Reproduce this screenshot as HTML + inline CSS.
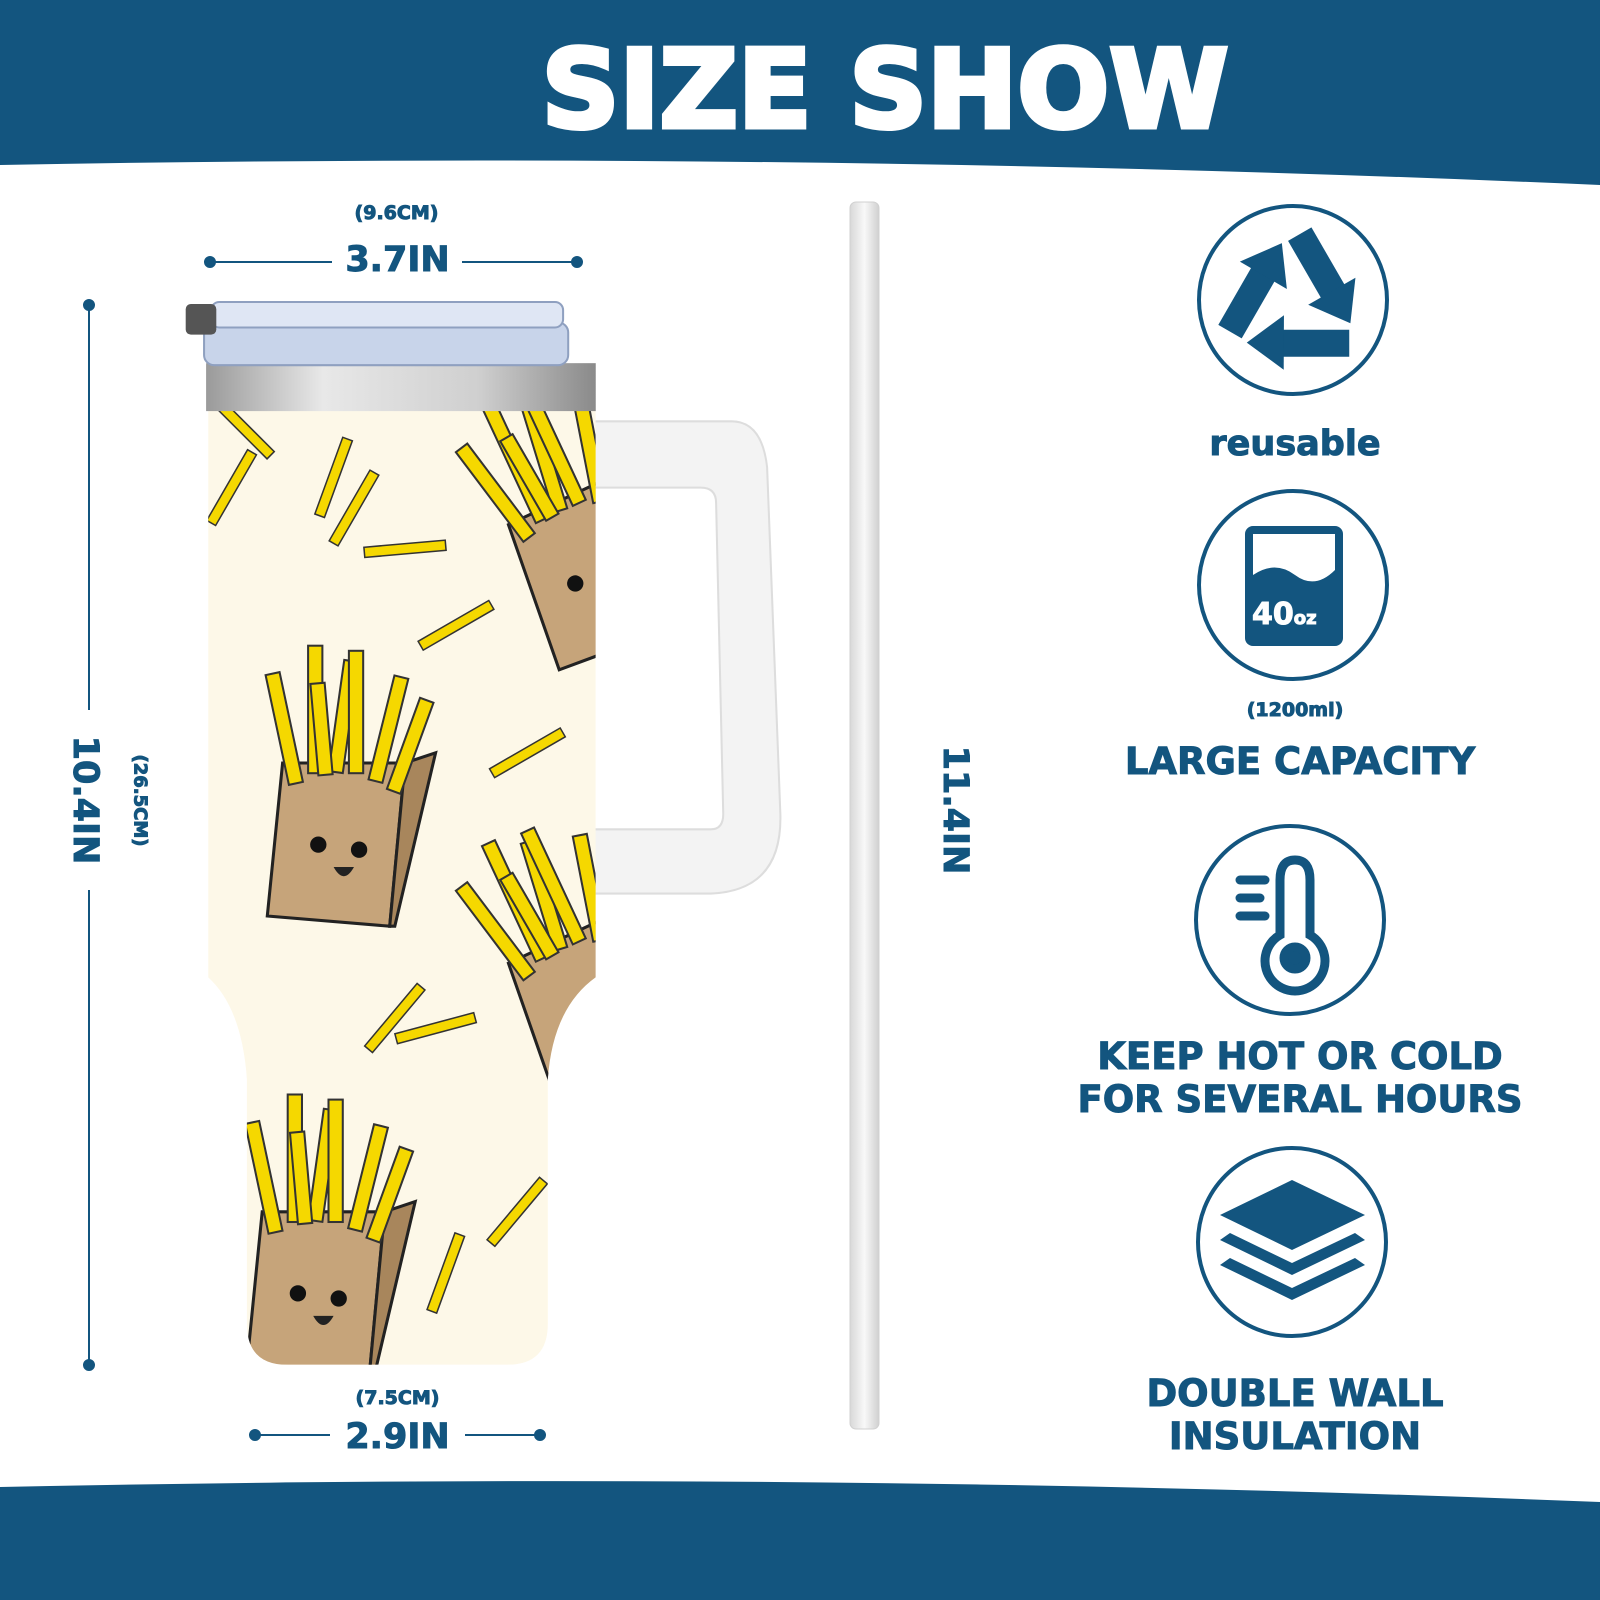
<!DOCTYPE html>
<html><head><meta charset="utf-8"><style>
body{margin:0;width:1600px;height:1600px;background:#fff;overflow:hidden;font-family:"DejaVu Sans","Liberation Sans",sans-serif}
.t{position:absolute;color:#13557f;font-weight:bold;white-space:nowrap;-webkit-text-stroke:1px #13557f}
</style></head><body>
<svg width="1600" height="1600" style="position:absolute;left:0;top:0">
<defs>
<linearGradient id="steel" x1="0" x2="1"><stop offset="0" stop-color="#9a9a9a"/><stop offset=".3" stop-color="#e8e8e8"/><stop offset=".7" stop-color="#cfcfcf"/><stop offset="1" stop-color="#8a8a8a"/></linearGradient>
<linearGradient id="straw" x1="0" x2="1"><stop offset="0" stop-color="#d8d8d8"/><stop offset=".5" stop-color="#f8f8f8"/><stop offset="1" stop-color="#d0d0d0"/></linearGradient>
<g id="fry"><rect x="-5" y="-40" width="10" height="80" fill="#f5d800" stroke="#333" stroke-width="1.5"/></g>
<g id="bag">
<polygon points="-60,-10 60,-10 45,150 -75,140" fill="#c6a47a" stroke="#222" stroke-width="3"/>
<polygon points="60,-10 90,-20 50,150 45,150" fill="#a8865c" stroke="#222" stroke-width="3"/>
<g fill="#f5d800" stroke="#333" stroke-width="2">
<rect x="-55" y="-110" width="14" height="110" transform="rotate(-12)"/>
<rect x="-35" y="-125" width="14" height="125"/>
<rect x="-15" y="-110" width="14" height="110" transform="rotate(8)"/>
<rect x="5" y="-120" width="14" height="120"/>
<rect x="25" y="-105" width="14" height="105" transform="rotate(14)"/>
<rect x="45" y="-95" width="14" height="95" transform="rotate(20)"/>
<rect x="-25" y="-90" width="14" height="90" transform="rotate(-5)"/>
</g>
<circle cx="-25" cy="70" r="8" fill="#111"/><circle cx="15" cy="75" r="8" fill="#111"/>
<path d="M-10 92 Q0 110 10 92 Z" fill="#222"/>
</g>
<clipPath id="body"><path d="M207 398 H587 V960 Q545 990 540 1060 V1300 Q540 1340 500 1340 H285 Q245 1340 245 1300 V1060 Q240 990 207 960 Z"/></clipPath>
<g id="rarrow">
<line x1="5" y1="-51" x2="31" y2="-6" stroke="#13557f" stroke-width="20"/>
<polygon points="42,13 17,2 45,-14" fill="#13557f" transform="scale(1.25) translate(-8,-1)"/>
</g>
</defs>
<path d="M0 0 H1600 V185 Q800 150 0 165 Z" fill="#13557f"/>
<path d="M0 1600 H1600 V1502 Q800 1470 0 1487 Z" fill="#13557f"/>
<g transform="translate(-3,-2) scale(1.02)">
<path d="M580 415 H720 Q750 415 755 460 L768 800 Q770 875 700 878 H580 V815 H700 Q712 815 712 800 L705 495 Q705 480 690 480 H580 Z" fill="#f3f3f3" stroke="#ddd" stroke-width="2"/>
<g clip-path="url(#body)">
<rect x="200" y="390" width="400" height="960" fill="#fdf8e8"/>
<use href="#bag" transform="translate(340 760)"/>
<use href="#bag" transform="translate(560 500) rotate(-25)"/>
<use href="#bag" transform="translate(560 930) rotate(-25)"/>
<use href="#bag" transform="translate(320 1200)"/>
<use href="#fry" transform="translate(330 470) rotate(20)"/>
<use href="#fry" transform="translate(350 500) rotate(30)"/>
<use href="#fry" transform="translate(400 540) rotate(85)"/>
<use href="#fry" transform="translate(450 615) rotate(60)"/>
<use href="#fry" transform="translate(520 740) rotate(60)"/>
<use href="#fry" transform="translate(390 1000) rotate(40)"/>
<use href="#fry" transform="translate(430 1010) rotate(75)"/>
<use href="#fry" transform="translate(510 1190) rotate(40)"/>
<use href="#fry" transform="translate(440 1250) rotate(20)"/>
<use href="#fry" transform="translate(230 480) rotate(30)"/>
<use href="#fry" transform="translate(240 420) rotate(-45)"/>
</g>
<rect x="205" y="358" width="382" height="47" fill="url(#steel)"/>
<rect x="203" y="318" width="357" height="42" rx="10" fill="#c8d4ea" stroke="#8fa0c0" stroke-width="2"/>
<rect x="210" y="298" width="345" height="25" rx="8" fill="#dfe6f4" stroke="#8fa0c0" stroke-width="2"/>
<rect x="185" y="300" width="30" height="30" rx="5" fill="#555"/>
</g>
<rect x="850" y="202" width="29" height="1227" rx="6" fill="url(#straw)" stroke="#d0d0d0"/>
<g stroke="#13557f" stroke-width="2" fill="#13557f">
<line x1="210" y1="262" x2="332" y2="262"/><line x1="462" y1="262" x2="577" y2="262"/>
<circle cx="210" cy="262" r="5"/><circle cx="577" cy="262" r="5"/>
<line x1="255" y1="1435" x2="330" y2="1435"/><line x1="465" y1="1435" x2="540" y2="1435"/>
<circle cx="255" cy="1435" r="5"/><circle cx="540" cy="1435" r="5"/>
<line x1="89" y1="305" x2="89" y2="710"/><line x1="89" y1="890" x2="89" y2="1365"/>
<circle cx="89" cy="305" r="5"/><circle cx="89" cy="1365" r="5"/>
</g>
<g fill="none" stroke="#13557f" stroke-width="4">
<circle cx="1293" cy="300" r="94"/><circle cx="1293" cy="585" r="94"/>
<circle cx="1290" cy="920" r="94"/><circle cx="1292" cy="1242" r="94"/>
</g>
<g transform="translate(1293 303) scale(1.35)">
<use href="#rarrow"/><use href="#rarrow" transform="rotate(120)"/><use href="#rarrow" transform="rotate(240)"/>
</g>
<rect x="1245" y="526" width="98" height="120" rx="8" fill="#13557f"/>
<rect x="1253" y="534" width="82" height="55" fill="#fff"/>
<path d="M1253 575 Q1275 560 1295 575 T1335 570 V590 H1253 Z" fill="#13557f"/>
<g stroke="#13557f" stroke-width="9" fill="none" stroke-linecap="round">
<path d="M1280 935 V880 Q1280 860 1295 860 Q1310 860 1310 880 V935 A30 30 0 1 1 1280 935 Z"/>
<circle cx="1295" cy="958" r="11" fill="#13557f"/>
<line x1="1240" y1="880" x2="1265" y2="880"/><line x1="1240" y1="898" x2="1260" y2="898"/><line x1="1240" y1="916" x2="1265" y2="916"/>
</g>
<g fill="#13557f">
<polygon points="1292,1180 1365,1215 1292,1250 1220,1215"/>
<path d="M1230 1233 L1292 1263 L1355 1233 L1365 1240 L1292 1275 L1220 1240 Z"/>
<path d="M1230 1258 L1292 1288 L1355 1258 L1365 1265 L1292 1300 L1220 1265 Z"/>
</g>
</svg>
<div class="t" style="left:0;width:1770px;text-align:center;top:28px;font-size:108px;color:#fff;-webkit-text-stroke:5px #fff">SIZE SHOW</div>
<div class="t" style="left:0;width:793px;text-align:center;top:202px;font-size:19px">(9.6CM)</div>
<div class="t" style="left:0;width:795px;text-align:center;top:240px;font-size:35px">3.7IN</div>
<div class="t" style="left:0;width:795px;text-align:center;top:1387px;font-size:19px">(7.5CM)</div>
<div class="t" style="left:0;width:795px;text-align:center;top:1417px;font-size:35px">2.9IN</div>
<div class="t" style="left:0px;top:780px;font-size:35px;transform:rotate(90deg);width:170px;text-align:center">10.4IN</div>
<div class="t" style="left:80px;top:790px;font-size:18px;transform:rotate(90deg);width:120px;text-align:center">(26.5CM)</div>
<div class="t" style="left:870px;top:790px;font-size:35px;transform:rotate(90deg);width:170px;text-align:center">11.4IN</div>
<div class="t" style="left:1252px;top:597px;font-size:30px;color:#fff;-webkit-text-stroke:1px #fff">40<span style="font-size:18px">oz</span></div>
<div class="t" style="left:1100px;width:390px;text-align:center;top:424px;font-size:35px">reusable</div>
<div class="t" style="left:1100px;width:390px;text-align:center;top:699px;font-size:19px">(1200ml)</div>
<div class="t" style="left:1000px;width:600px;text-align:center;top:740px;font-size:37px">LARGE CAPACITY</div>
<div class="t" style="left:1000px;width:600px;text-align:center;top:1035px;font-size:37px;line-height:43px">KEEP HOT OR COLD<br>FOR SEVERAL HOURS</div>
<div class="t" style="left:1000px;width:590px;text-align:center;top:1372px;font-size:37px;line-height:43px">DOUBLE WALL<br>INSULATION</div>
</body></html>
